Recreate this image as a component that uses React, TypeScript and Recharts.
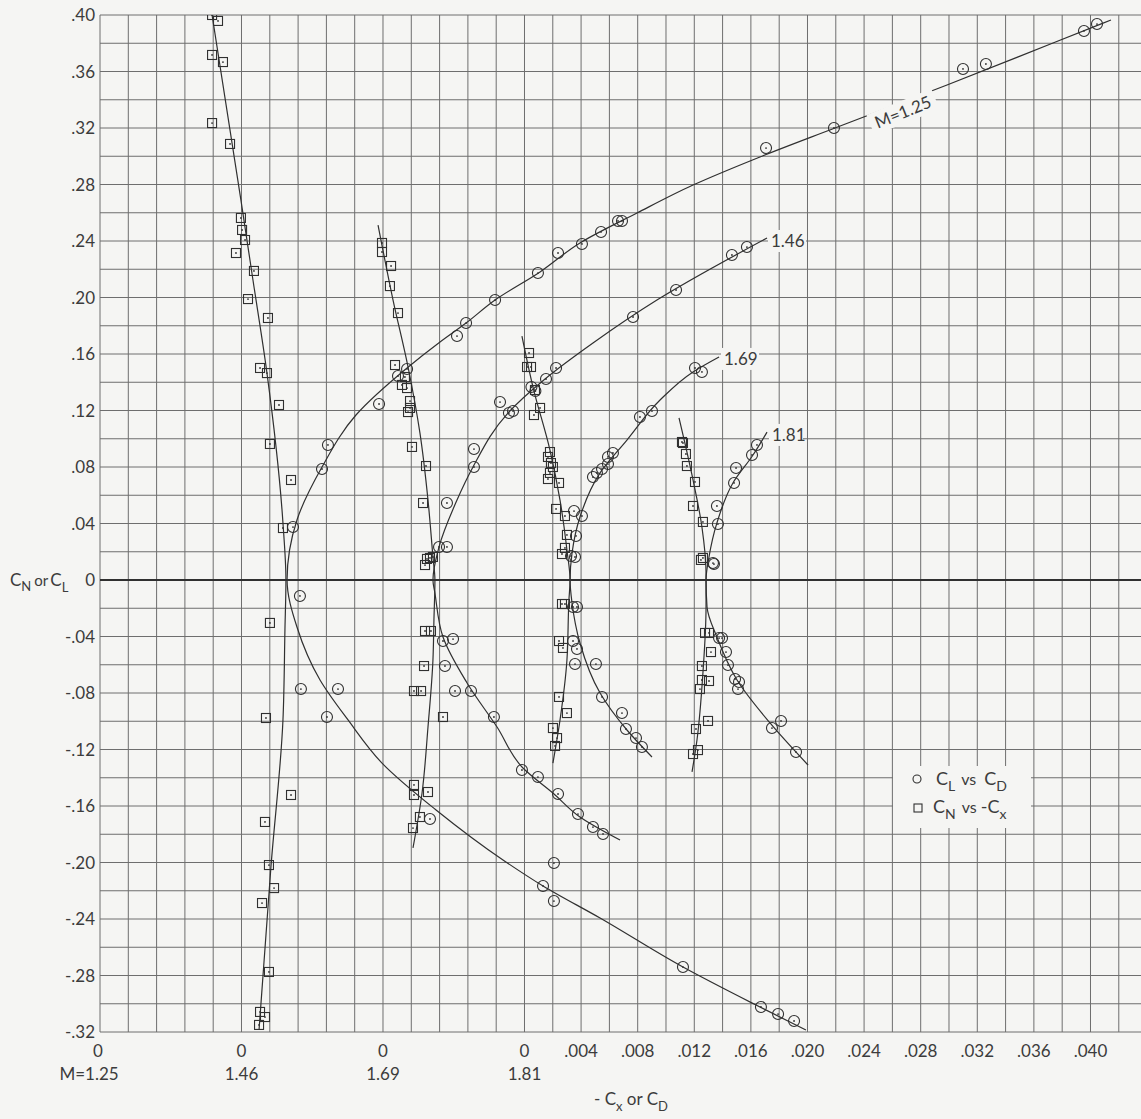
import React from "react";
import {
  ComposedChart,
  Scatter,
  XAxis,
  YAxis,
  CartesianGrid,
  ReferenceLine,
  ReferenceDot,
  Legend,
} from "recharts";

type Pt = [number, number];

// each Mach number has its own drag zero, slid 0.010 along the axis
const MACH = ["M=1.25", "1.46", "1.69", "1.81"];
const ORIGIN_SHIFT = [-0.03, -0.02, -0.01, 0];
const DRAG_TICKS = [0.004, 0.008, 0.012, 0.016, 0.02, 0.024, 0.028, 0.032, 0.036, 0.04];
const LIFT_TICKS = [-0.32, -0.28, -0.24, -0.2, -0.16, -0.12, -0.08, -0.04, 0, 0.04, 0.08, 0.12, 0.16, 0.2, 0.24, 0.28, 0.32, 0.36, 0.4];

// M = 1.25   [CD, CL] and [-CX, CN]
const m125Circles: Pt[] = [
  [0.07046, 0.3936], [0.06954, 0.3887], [0.06261, 0.3653], [0.06099, 0.3618], [0.05187, 0.32],
  [0.04707, 0.3058], [0.03689, 0.2542], [0.03661, 0.2542], [0.03541, 0.2464], [0.03406, 0.2379],
  [0.03237, 0.2315], [0.03095, 0.2173], [0.02792, 0.1982], [0.02587, 0.1819], [0.02523, 0.1727],
  [0.0217, 0.1494], [0.02106, 0.1444], [0.01972, 0.1246], [0.01611, 0.0956], [0.01569, 0.0786],
  [0.01364, 0.0375], [0.01413, -0.0113], [0.0142, -0.0772], [0.01682, -0.0772], [0.01604, -0.097],
  [0.02332, -0.1692], [0.03208, -0.2004], [0.03131, -0.2166], [0.03208, -0.2273], [0.0412, -0.274],
  [0.04671, -0.3023], [0.04792, -0.3073], [0.04905, -0.3122],
];
const m125Squares: Pt[] = [
  [0.00792, 0.4], [0.00834, 0.3958], [0.00792, 0.3717], [0.00869, 0.3667], [0.00792, 0.3235],
  [0.00919, 0.3087], [0.00996, 0.2563], [0.01004, 0.2478], [0.01025, 0.2407], [0.00961, 0.2315],
  [0.01088, 0.2188], [0.01046, 0.1989], [0.01187, 0.1855], [0.01131, 0.1501], [0.0118, 0.1465],
  [0.01265, 0.1239], [0.01201, 0.0963], [0.0135, 0.0708], [0.01293, 0.0368], [0.01201, -0.0304],
  [0.01173, -0.0977], [0.0135, -0.1522], [0.01166, -0.1713], [0.01194, -0.2018], [0.0123, -0.2181],
  [0.01145, -0.2287], [0.01194, -0.2775], [0.01131, -0.3058], [0.01166, -0.3094], [0.01124, -0.315],
];
const m125ClFair: Pt[] = [
  [0.07145, 0.3965], [0.06735, 0.3802], [0.05986, 0.3504], [0.05194, 0.32], [0.04664, 0.2995],
  [0.04191, 0.2796], [0.03795, 0.2598], [0.03392, 0.2386], [0.0311, 0.2181], [0.02792, 0.1982],
  [0.02587, 0.1819], [0.02403, 0.1685], [0.0217, 0.1501], [0.01809, 0.1168], [0.01569, 0.08],
  [0.01392, 0.0425], [0.01322, 0], [0.01392, -0.0333], [0.01555, -0.0708], [0.01753, -0.0991],
  [0.01993, -0.1296], [0.02375, -0.1628], [0.02848, -0.1982], [0.03131, -0.2166], [0.03534, -0.2393],
  [0.04120, -0.274], [0.04636, -0.3009], [0.04989, -0.3186],
];
const m125CnFair: Pt[] = [
  [0.00792, 0.4], [0.00996, 0.269], [0.01081, 0.2124], [0.0118, 0.1465], [0.01293, 0.0404],
  [0.01314, 0], [0.01307, -0.0354], [0.01293, -0.0991], [0.01208, -0.2032], [0.01124, -0.3186],
];

// M = 1.46
const m146Circles: Pt[] = [
  [0.01396, 0.0234], [0.01452, 0.0234], [0.01452, 0.0545], [0.01643, 0.08], [0.01643, 0.0927],
  [0.01827, 0.126], [0.0189, 0.1182], [0.01919, 0.1196], [0.02049, 0.1366], [0.02077, 0.1338],
  [0.02152, 0.1423], [0.02223, 0.1501], [0.02767, 0.1862], [0.03071, 0.2053], [0.03466, 0.2301],
  [0.03572, 0.2357], [0.01424, -0.0432], [0.01495, -0.0418], [0.01438, -0.0609], [0.01509, -0.0786],
  [0.01622, -0.0786], [0.01784, -0.097], [0.01982, -0.1345], [0.02095, -0.1395], [0.02237, -0.1515],
  [0.02378, -0.1657], [0.02484, -0.1749], [0.02555, -0.1798],
];
const m146Squares: Pt[] = [
  [0.00993, 0.2386], [0.00993, 0.2322], [0.01057, 0.2223], [0.01049, 0.2081], [0.01106, 0.189],
  [0.01085, 0.1522], [0.01155, 0.1437], [0.01134, 0.1381], [0.0117, 0.1359], [0.01191, 0.1267],
  [0.01191, 0.1218], [0.01177, 0.1189], [0.01205, 0.0942], [0.01304, 0.0807], [0.01283, 0.0545],
  [0.01311, 0.0149], [0.01332, 0.0156], [0.01297, 0.0106], [0.01353, 0.0163], [0.01297, -0.0361],
  [0.01339, -0.0361], [0.0129, -0.0609], [0.01219, -0.0786], [0.01269, -0.0786], [0.01424, -0.097],
  [0.01219, -0.1451], [0.01219, -0.1522], [0.01318, -0.1501], [0.01261, -0.1678], [0.01212, -0.1756],
];
const m146ClFair: Pt[] = [
  [0.03714, 0.2421], [0.02936, 0.1982], [0.02484, 0.1678], [0.02145, 0.1423], [0.01883, 0.1182],
  [0.01636, 0.08], [0.01523, 0.0566], [0.01396, 0.0234], [0.01353, 0], [0.01367, -0.0092],
  [0.01424, -0.0404], [0.01594, -0.0729], [0.01806, -0.1041], [0.01989, -0.1331], [0.02201, -0.1508],
  [0.02392, -0.1678], [0.02675, -0.1841],
];
const m146CnFair: Pt[] = [
  [0.00965, 0.2513], [0.01071, 0.1982], [0.01177, 0.1508], [0.01261, 0.1041], [0.01318, 0.0566],
  [0.01353, 0.0163], [0.01367, 0], [0.0136, -0.0283], [0.01353, -0.0566], [0.01318, -0.1041],
  [0.01276, -0.1508], [0.01212, -0.1897],
];

// M = 1.69
const m169Circles: Pt[] = [
  [0.0135, 0.0488], [0.01406, 0.0453], [0.01364, 0.0312], [0.01329, 0.017], [0.01357, 0.0163],
  [0.01484, 0.0729], [0.01512, 0.0758], [0.01548, 0.0786], [0.0159, 0.0821], [0.0159, 0.0871],
  [0.01625, 0.0899], [0.01816, 0.1154], [0.01901, 0.1196], [0.02205, 0.1501], [0.02254, 0.1473],
  [0.01343, -0.0191], [0.01371, -0.0191], [0.01343, -0.0432], [0.01371, -0.0488], [0.01357, -0.0595],
  [0.01505, -0.0595], [0.01548, -0.0828], [0.01689, -0.0942], [0.01717, -0.1055], [0.01788, -0.1119],
  [0.0183, -0.1182],
];
const m169Squares: Pt[] = [
  [0.01032, 0.1607], [0.01018, 0.1508], [0.01046, 0.1508], [0.01074, 0.1345], [0.0111, 0.1218],
  [0.01067, 0.1168], [0.0118, 0.0906], [0.01166, 0.0871], [0.01187, 0.0828], [0.01201, 0.08],
  [0.0118, 0.0758], [0.01166, 0.0715], [0.01244, 0.0687], [0.01223, 0.0503], [0.01286, 0.0453],
  [0.013, 0.0319], [0.01286, 0.0227], [0.01265, 0.0184], [0.01265, -0.017], [0.01286, -0.017],
  [0.01244, -0.0432], [0.01272, -0.0481], [0.01244, -0.0828], [0.013, -0.0942], [0.01201, -0.1048],
  [0.0123, -0.1119], [0.01216, -0.1175],
];
const m169ClFair: Pt[] = [
  [0.02375, 0.1579], [0.02191, 0.1473], [0.01958, 0.1274], [0.01724, 0.0991], [0.01534, 0.0758],
  [0.01392, 0.0446], [0.01336, 0.0191], [0.01322, 0], [0.01336, -0.0163], [0.01392, -0.0446],
  [0.01534, -0.08], [0.01724, -0.1062], [0.01901, -0.1253],
];
const m169CnFair: Pt[] = [
  [0.00982, 0.1727], [0.0106, 0.1366], [0.0118, 0.092], [0.01251, 0.0566], [0.013, 0.0212],
  [0.01322, 0], [0.01314, -0.0142], [0.013, -0.0566], [0.01251, -0.0991], [0.01201, -0.1296],
];

// M = 1.81
const m181Circles: Pt[] = [
  [0.0136, 0.0524], [0.01367, 0.0396], [0.01339, 0.0113], [0.01332, 0.012], [0.01481, 0.0687],
  [0.01495, 0.0793], [0.01608, 0.0885], [0.01643, 0.0956], [0.01375, -0.0411], [0.01396, -0.0411],
  [0.01424, -0.051], [0.01438, -0.0602], [0.01488, -0.0701], [0.01516, -0.0722], [0.01509, -0.0772],
  [0.01749, -0.1048], [0.01813, -0.0998], [0.01919, -0.1218],
];
const m181Squares: Pt[] = [
  [0.01113, 0.0977], [0.0112, 0.097], [0.01141, 0.0892], [0.01148, 0.0807], [0.01205, 0.0694],
  [0.01191, 0.0524], [0.01261, 0.0411], [0.01247, 0.0142], [0.01261, 0.0156], [0.01276, -0.0375],
  [0.01304, -0.0375], [0.01318, -0.051], [0.01254, -0.0609], [0.01254, -0.0708], [0.01304, -0.0715],
  [0.0124, -0.0772], [0.01297, -0.0998], [0.01212, -0.1055], [0.01226, -0.1204], [0.01191, -0.1232],
];
const m181ClFair: Pt[] = [
  [0.01714, 0.1047], [0.01615, 0.0885], [0.01473, 0.0687], [0.0136, 0.0404], [0.01304, 0.0163],
  [0.01283, 0], [0.0129, -0.0191], [0.0136, -0.0404], [0.01502, -0.0708], [0.01735, -0.1012],
  [0.02004, -0.131],
];
const m181CnFair: Pt[] = [
  [0.01092, 0.1147], [0.01191, 0.0708], [0.01254, 0.0375], [0.01283, 0.005], [0.01283, -0.0191],
  [0.01261, -0.0658], [0.01219, -0.1133], [0.01184, -0.1359],
];

const SERIES = [
  { circles: m125Circles, squares: m125Squares, clFair: m125ClFair, cnFair: m125CnFair },
  { circles: m146Circles, squares: m146Squares, clFair: m146ClFair, cnFair: m146CnFair },
  { circles: m169Circles, squares: m169Squares, clFair: m169ClFair, cnFair: m169CnFair },
  { circles: m181Circles, squares: m181Squares, clFair: m181ClFair, cnFair: m181CnFair },
];

const BG = "#f5f5f3";
const INK = "#303030";
const GRID = "#6e6e6e";
const TEXT = "#3c3c3c";
const FONT = "Lato, 'DejaVu Sans', sans-serif";

const r4 = (v: number) => Math.round(v * 10000) / 10000;
const GRID_X = Array.from({ length: 37 }, (_, k) => r4(-0.03 + 0.002 * k));
const GRID_Y = Array.from({ length: 37 }, (_, k) => r4(-0.32 + 0.02 * k));

const place = (pts: Pt[], shift: number) => pts.map(([c, l]) => ({ x: c + shift, y: l }));

const CircleMark = (p: any) =>
  p.cx == null ? <g /> : (
    <g>
      <circle cx={p.cx} cy={p.cy} r={5.5} fill="none" stroke={INK} strokeWidth={1.1} />
      <circle cx={p.cx} cy={p.cy} r={0.9} fill={INK} />
    </g>
  );
const SquareMark = (p: any) =>
  p.cx == null ? <g /> : (
    <g>
      <rect x={p.cx - 4.5} y={p.cy - 4.5} width={9} height={9} fill="none" stroke={INK} strokeWidth={1.1} />
      <circle cx={p.cx} cy={p.cy} r={0.9} fill={INK} />
    </g>
  );
const NoMark = () => <g />;

const fmtLift = (v: number) => {
  if (Math.abs(v) < 1e-9) return "0";
  const s = Math.abs(v).toFixed(2).replace(/^0/, "");
  return v < 0 ? `-${s}` : s;
};
const fmtDrag = (v: number) => v.toFixed(3).replace(/^0/, "");

const YTick = ({ x, y, payload }: any) => {
  const v = payload.value;
  return (
    <g fontFamily={FONT} fill={TEXT} fontSize={17}>
      <text x={x} y={y} dy="0.36em" textAnchor="end">{fmtLift(v)}</text>
      {Math.abs(v) < 1e-9 && (
        <text x={10} y={y} dy="0.36em" fontSize={17}>
          C<tspan dy={5} fontSize={13}>N</tspan>
          <tspan dy={-5} dx={3} fontSize={15}>or</tspan>
          <tspan dx={2}>C</tspan>
          <tspan dy={6} fontSize={13}>L</tspan>
        </text>
      )}
    </g>
  );
};

const XTick = ({ x, y, payload }: any) => {
  const v = payload.value;
  const i = ORIGIN_SHIFT.findIndex((s) => Math.abs(s - v) < 1e-9);
  if (i >= 0) {
    return (
      <g fontFamily={FONT} fill={TEXT} fontSize={17} textAnchor="middle">
        <text x={x - (i === 0 ? 2 : 0)} y={y + 17}>0</text>
        <text x={x - (i === 0 ? 11 : 0)} y={y + 40}>{MACH[i]}</text>
      </g>
    );
  }
  return (
    <text x={x} y={y + 17} fontFamily={FONT} fill={TEXT} fontSize={17} textAnchor="middle">
      {fmtDrag(v)}
    </text>
  );
};

const AxisTitle = ({ viewBox }: any) => {
  const x0 = viewBox.x + 494;
  const y0 = viewBox.y + 73;
  return (
    <text x={x0} y={y0} fontFamily={FONT} fill={TEXT} fontSize={17}>
      - C<tspan dy={6} fontSize={13}>x</tspan>
      <tspan dy={-6}> or C</tspan>
      <tspan dy={6} fontSize={13}>D</tspan>
    </text>
  );
};

const CurveLabel = ({ text, angle = 0, anchor = "start", w = 38 }: any) => (p: any) => {
  const { cx, cy } = p;
  const rx = anchor === "middle" ? -w / 2 : -3;
  return (
    <g transform={`translate(${cx},${cy}) rotate(${angle})`}>
      <rect x={rx} y={-11} width={w} height={22} fill={BG} />
      <text x={0} y={0} dy="0.36em" textAnchor={anchor} fontFamily={FONT} fontSize={17} fill={TEXT}>
        {text}
      </text>
    </g>
  );
};

const LegendBox = () => (
  <svg width={138} height={62} style={{ display: "block" }}>
    <rect width={138} height={62} fill={BG} />
    <g fontFamily={FONT} fill={TEXT} fontSize={18}>
      <circle cx={24} cy={13} r={4} fill="none" stroke={INK} strokeWidth={1.1} />
      <text x={43} y={19}>
        C<tspan dy={6} fontSize={14}>L</tspan>
        <tspan dy={-6} fontSize={16} dx={6}>vs</tspan>
        <tspan dx={8}>C</tspan>
        <tspan dy={6} fontSize={14}>D</tspan>
      </text>
      <rect x={21} y={38} width={8} height={8} fill="none" stroke={INK} strokeWidth={1.1} />
      <text x={40} y={47}>
        C<tspan dy={6} fontSize={14}>N</tspan>
        <tspan dy={-6} fontSize={16} dx={6}>vs</tspan>
        <tspan dx={4}>-C</tspan>
        <tspan dy={6} fontSize={14}>x</tspan>
      </text>
    </g>
  </svg>
);

export default function App() {
  return (
    <div style={{ position: "absolute", left: 0, top: 0, width: 1141, height: 1119, background: BG, overflow: "hidden" }}>
      <ComposedChart width={1141} height={1119} margin={{ top: 15, right: 0, bottom: 0, left: 0 }}>
        <CartesianGrid
          verticalValues={GRID_X}
          horizontalValues={GRID_Y}
          stroke={GRID}
          strokeWidth={1}
          strokeDasharray=""
        />
        <XAxis
          type="number"
          dataKey="x"
          domain={[-0.03, 0.04357]}
          allowDataOverflow
          ticks={[...ORIGIN_SHIFT, ...DRAG_TICKS]}
          interval={0}
          tick={<XTick />}
          tickSize={0}
          tickMargin={8}
          tickLine={false}
          axisLine={false}
          height={87}
          label={{ content: <AxisTitle /> }}
        />
        <YAxis
          type="number"
          dataKey="y"
          domain={[-0.32, 0.4]}
          allowDataOverflow
          ticks={LIFT_TICKS}
          interval={0}
          tick={<YTick />}
          tickSize={0}
          tickMargin={5}
          tickLine={false}
          axisLine={false}
          width={100}
        />
        <ReferenceLine y={0} stroke={INK} strokeWidth={2.2} />
        {SERIES.map((s, i) => (
          <React.Fragment key={MACH[i]}>
            <Scatter
              data={place(s.clFair, ORIGIN_SHIFT[i])}
              line={{ stroke: INK, strokeWidth: 1.2 }}
              lineJointType="monotoneY"
              shape={NoMark}
              legendType="none"
              isAnimationActive={false}
            />
            <Scatter
              data={place(s.cnFair, ORIGIN_SHIFT[i])}
              line={{ stroke: INK, strokeWidth: 1.2 }}
              lineJointType="monotoneY"
              shape={NoMark}
              legendType="none"
              isAnimationActive={false}
            />
            <Scatter data={place(s.circles, ORIGIN_SHIFT[i])} shape={CircleMark} legendType="none" isAnimationActive={false} />
            <Scatter data={place(s.squares, ORIGIN_SHIFT[i])} shape={SquareMark} legendType="none" isAnimationActive={false} />
          </React.Fragment>
        ))}
        <ReferenceDot x={0.02675} y={0.3313} r={0} shape={CurveLabel({ text: "M=1.25", angle: -22, anchor: "middle", w: 70 })} />
        <ReferenceDot x={0.01742} y={0.24} r={0} shape={CurveLabel({ text: "1.46", w: 38 })} />
        <ReferenceDot x={0.0141} y={0.1565} r={0} shape={CurveLabel({ text: "1.69", w: 38 })} />
        <ReferenceDot x={0.01749} y={0.1027} r={0} shape={CurveLabel({ text: "1.81", w: 34 })} />
        <Legend
          layout="horizontal"
          verticalAlign="middle"
          align="center"
          content={<LegendBox />}
          wrapperStyle={{ position: "absolute", left: 893, top: 766, width: 138, height: 62 }}
        />
      </ComposedChart>
    </div>
  );
}
